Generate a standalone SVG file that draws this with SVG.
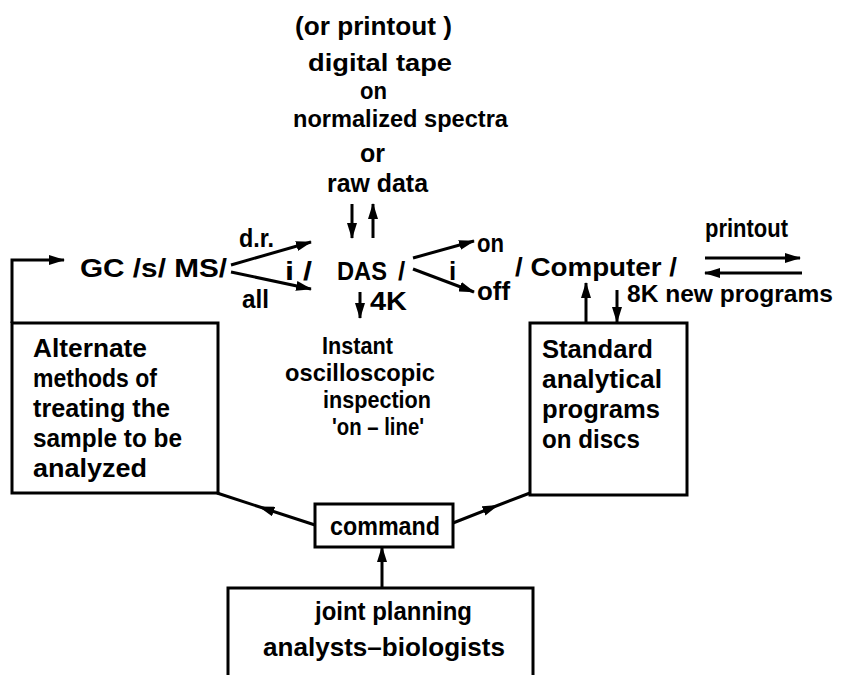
<svg xmlns="http://www.w3.org/2000/svg" width="842" height="675" viewBox="0 0 842 675">
<style>
text{font-family:"Liberation Sans",Arial,sans-serif;font-weight:bold;font-size:26px;fill:#000}
.s{font-size:24px}
.ln{fill:none;stroke:#000;stroke-width:3}
.box{fill:#fff;stroke:#000;stroke-width:3}
</style>
<defs>
<marker id="ah" viewBox="0 0 16 10" refX="15" refY="5" markerWidth="16" markerHeight="10" markerUnits="userSpaceOnUse" orient="auto">
<path d="M0,0 L16,5 L0,10 Z" fill="#000"/>
</marker>
<marker id="am" viewBox="0 0 16 10" refX="8" refY="5" markerWidth="16" markerHeight="10" markerUnits="userSpaceOnUse" orient="auto">
<path d="M0,0 L16,5 L0,10 Z" fill="#000"/>
</marker>
</defs>
<rect width="842" height="675" fill="#fff"/>

<g id="connectors">
<path class="ln" d="M12,323 V260 H64" marker-end="url(#ah)"/>
<path class="ln" d="M231,265 L311,242" marker-end="url(#ah)"/>
<path class="ln" d="M231,272 L311,289" marker-end="url(#ah)"/>
<path class="ln" d="M352,204 V238" marker-end="url(#ah)"/>
<path class="ln" d="M373,238 V204" marker-end="url(#ah)"/>
<path class="ln" d="M360,292 V318" marker-end="url(#ah)"/>
<path class="ln" d="M413,258 L474,241" marker-end="url(#ah)"/>
<path class="ln" d="M413,269 L474,292" marker-end="url(#ah)"/>
<path class="ln" d="M705,258 H800" marker-end="url(#ah)"/>
<path class="ln" d="M802,273 H705" marker-end="url(#ah)"/>
<path class="ln" d="M586,323 V283" marker-end="url(#ah)"/>
<path class="ln" d="M617,290 V322" marker-end="url(#ah)"/>
<path class="ln" d="M315,525 L266,509 L217,493" marker-mid="url(#am)"/>
<path class="ln" d="M453,523 L491,508 L530,493" marker-mid="url(#am)"/>
<path class="ln" d="M382,588 V547" marker-end="url(#ah)"/>
</g>

<g id="output-text">
<text x="295" y="35" textLength="157" lengthAdjust="spacingAndGlyphs">(or printout )</text>
<text class="s" x="308" y="71" textLength="144" lengthAdjust="spacingAndGlyphs">digital tape</text>
<text class="s" x="360" y="99" textLength="27" lengthAdjust="spacingAndGlyphs">on</text>
<text class="s" x="293" y="127" textLength="215" lengthAdjust="spacingAndGlyphs">normalized spectra</text>
<text x="360" y="162" textLength="25" lengthAdjust="spacingAndGlyphs">or</text>
<text x="327" y="192" textLength="101" lengthAdjust="spacingAndGlyphs">raw data</text>
</g>

<g id="gcms">
<text x="80" y="277" textLength="147" lengthAdjust="spacingAndGlyphs">GC /s/ MS/</text>
<text x="239" y="247" textLength="35" lengthAdjust="spacingAndGlyphs">d.r.</text>
<text x="242" y="308" textLength="27" lengthAdjust="spacingAndGlyphs">all</text>
<text x="285" y="280" textLength="27" lengthAdjust="spacingAndGlyphs">i /</text>
</g>

<g id="das">
<text x="337" y="280" textLength="50" lengthAdjust="spacingAndGlyphs">DAS</text>
<text x="398" y="280">/</text>
<text x="449" y="280">i</text>
<text x="477" y="252" textLength="27" lengthAdjust="spacingAndGlyphs">on</text>
<text x="477" y="300" textLength="33" lengthAdjust="spacingAndGlyphs">off</text>
<text x="370" y="310" textLength="37" lengthAdjust="spacingAndGlyphs">4K</text>
</g>

<g id="oscilloscope">
<text class="s" x="322" y="354" textLength="71" lengthAdjust="spacingAndGlyphs">Instant</text>
<text class="s" x="285" y="381" textLength="150" lengthAdjust="spacingAndGlyphs">oscilloscopic</text>
<text class="s" x="323" y="408" textLength="108" lengthAdjust="spacingAndGlyphs">inspection</text>
<text class="s" x="332" y="435" textLength="92" lengthAdjust="spacingAndGlyphs">'on – line'</text>
</g>

<g id="computer">
<text x="515" y="276" textLength="162" lengthAdjust="spacingAndGlyphs">/ Computer /</text>
<text x="705" y="237" textLength="83" lengthAdjust="spacingAndGlyphs">printout</text>
<text class="s" x="627" y="302" textLength="206" lengthAdjust="spacingAndGlyphs">8K new programs</text>
</g>

<g id="alternate-methods">
<rect class="box" x="12" y="323" width="206" height="170"/>
<text x="33" y="357" textLength="114" lengthAdjust="spacingAndGlyphs">Alternate</text>
<text x="33" y="387" textLength="124" lengthAdjust="spacingAndGlyphs">methods of</text>
<text x="33" y="417" textLength="137" lengthAdjust="spacingAndGlyphs">treating the</text>
<text x="33" y="447" textLength="149" lengthAdjust="spacingAndGlyphs">sample to be</text>
<text x="33" y="477" textLength="114" lengthAdjust="spacingAndGlyphs">analyzed</text>
</g>

<g id="standard-programs">
<rect class="box" x="530" y="323" width="157" height="172"/>
<text x="542" y="358" textLength="111" lengthAdjust="spacingAndGlyphs">Standard</text>
<text x="542" y="388" textLength="120" lengthAdjust="spacingAndGlyphs">analytical</text>
<text x="542" y="418" textLength="118" lengthAdjust="spacingAndGlyphs">programs</text>
<text x="542" y="448" textLength="98" lengthAdjust="spacingAndGlyphs">on discs</text>
</g>

<g id="command">
<rect class="box" x="315" y="504" width="138" height="43"/>
<text x="330" y="535" textLength="110" lengthAdjust="spacingAndGlyphs">command</text>
</g>

<g id="joint-planning">
<rect class="box" x="228" y="588" width="305" height="100"/>
<text x="315" y="620" textLength="157" lengthAdjust="spacingAndGlyphs">joint planning</text>
<text x="263" y="656" textLength="242" lengthAdjust="spacingAndGlyphs">analysts–biologists</text>
</g>
</svg>
